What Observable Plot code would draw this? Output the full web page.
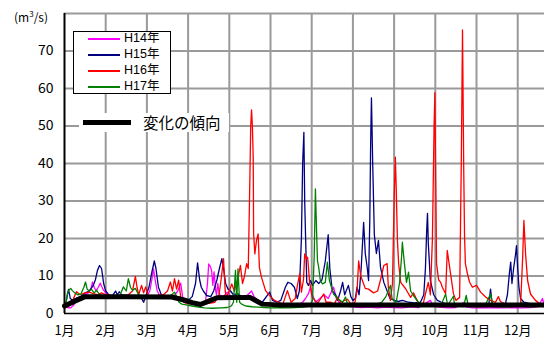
<!DOCTYPE html>
<html><head><meta charset="utf-8">
<script src="https://cdn.jsdelivr.net/npm/d3@7"></script>
<script src="https://cdn.jsdelivr.net/npm/@observablehq/plot@0.6"></script>
<style>
body{margin:0;background:#fff;font-family:'Noto Sans CJK JP',sans-serif;}
#wrap{position:relative;width:544px;height:338px;overflow:hidden;}
.abs{position:absolute;white-space:nowrap;line-height:1;}
.lt{font-family:'Liberation Sans','Noto Sans CJK JP',sans-serif;}
</style></head><body>
<div id="wrap"></div>
<script>
const monthLabels = ["1月","2月","3月","4月","5月","6月","7月","8月","9月","10月","11月","12月"];
const yTicks = [0,10,20,30,40,50,60,70];
const seriesNames = ["H14年","H15年","H16年","H17年"];
const seriesColors = ["#ff00ff","#000080","#ff0000","#008000"];
const trendName = "変化の傾向";

// [month position (0 = Jan 1), flow m3/s]
const h14 = [[0,1.8],[0.07,1.6],[0.15,1.5],[0.22,2.2],[0.29,3.5],[0.39,4.2],[0.5,5],[0.58,5.5],[0.64,6.5],[0.68,8.4],[0.72,7],[0.77,6],[0.82,7],[0.87,8.1],[0.93,6.5],[1.0,5.5],[1.07,5],[1.15,4.6],[1.3,4.4],[1.45,4.5],[1.6,4.6],[1.75,4.5],[1.9,4.4],[2.0,4.6],[2.07,6],[2.12,9],[2.16,11.9],[2.2,9],[2.25,6],[2.3,5],[2.4,4.6],[2.55,4.5],[2.68,5],[2.75,6],[2.82,8.1],[2.86,5],[2.89,3],[3.0,2.8],[3.15,2.6],[3.3,2.5],[3.42,3],[3.47,8],[3.5,13.2],[3.54,12.5],[3.57,11.5],[3.6,7.5],[3.63,11.1],[3.67,6],[3.69,5],[3.72,8],[3.76,5],[3.85,4.5],[3.95,5.7],[4.05,4.5],[4.2,4.2],[4.35,4.5],[4.45,5],[4.54,6],[4.6,4.5],[4.7,3.5],[4.88,2.7],[5.0,2.3],[5.2,2],[5.4,1.8],[5.6,2],[5.78,3],[5.85,4],[5.92,5.3],[5.97,7],[6.02,5],[6.09,3],[6.2,4],[6.3,5],[6.4,4],[6.53,7],[6.6,4],[6.7,2.5],[6.8,2],[7.0,1.8],[7.2,1.6],[7.4,1.7],[7.6,1.5],[7.8,1.7],[8.0,1.6],[8.2,1.5],[8.4,1.8],[8.6,1.6],[8.88,3.5],[8.95,2],[9.1,1.7],[9.3,1.5],[9.5,1.6],[9.7,3],[9.75,1.8],[9.9,1.5],[10.1,1.6],[10.3,1.5],[10.5,1.6],[10.7,1.5],[10.9,1.6],[11.1,1.5],[11.3,1.6],[11.5,1.8],[11.6,4],[11.65,2]];

const h15 = [[0,2.5],[0.04,3],[0.07,5],[0.1,6.4],[0.14,4],[0.2,3.5],[0.3,4.2],[0.4,4.6],[0.5,5.5],[0.6,6],[0.7,7.5],[0.75,9],[0.8,11.5],[0.85,12.8],[0.9,12],[0.95,8],[1.0,6],[1.07,5],[1.15,4.6],[1.24,6],[1.28,5],[1.33,5.8],[1.38,5],[1.48,4.8],[1.6,4.5],[1.75,4.2],[1.85,4.5],[1.92,3],[1.97,4.5],[2.05,7],[2.12,11],[2.18,14],[2.22,12],[2.28,7],[2.35,5],[2.45,4.6],[2.6,4.3],[2.75,4.5],[2.9,4],[3.0,3.5],[3.1,4.5],[3.18,8],[3.23,13.5],[3.28,9],[3.32,7],[3.37,6],[3.45,4.8],[3.55,4.5],[3.62,6],[3.7,9],[3.76,12],[3.82,14.6],[3.86,12],[3.91,8],[3.97,6.5],[4.03,6],[4.1,5],[4.2,5.3],[4.3,4.5],[4.42,4],[4.55,4.2],[4.65,3.5],[4.8,3],[4.98,5.7],[5.05,3.5],[5.15,3],[5.25,3.5],[5.36,7],[5.42,8.3],[5.5,8],[5.58,7],[5.65,4],[5.7,6],[5.75,20],[5.78,40],[5.81,48.3],[5.83,30],[5.85,21],[5.88,8.3],[5.92,7.5],[5.97,8.8],[6.02,7.5],[6.1,8.8],[6.17,8],[6.25,9],[6.33,14],[6.38,19],[6.40,21],[6.44,12],[6.5,6],[6.58,5],[6.63,3.5],[6.7,6],[6.75,8.3],[6.8,5],[6.89,7.5],[6.95,4.5],[7.0,3.5],[7.06,4],[7.1,7],[7.15,5],[7.2,12],[7.24,20],[7.26,24.3],[7.3,16],[7.35,12],[7.38,8.8],[7.41,25],[7.43,45],[7.45,57.5],[7.48,40],[7.52,21],[7.57,16],[7.62,19.5],[7.67,12.3],[7.75,8.3],[7.83,6],[7.9,4],[8.0,3.5],[8.1,3.2],[8.2,3.5],[8.35,3],[8.5,2.8],[8.64,3],[8.72,5],[8.76,12],[8.79,22],[8.81,26.7],[8.83,18.7],[8.88,8.8],[8.96,5],[9.05,3.5],[9.15,3],[9.3,2.5],[9.5,2.3],[9.7,2.5],[9.9,2.3],[10.1,2.2],[10.3,2.5],[10.34,6.5],[10.38,2.5],[10.55,2.2],[10.7,2.5],[10.75,5],[10.8,11],[10.83,13.7],[10.86,8],[10.9,12],[10.95,16],[10.97,18.1],[11.0,12],[11.03,7],[11.07,4],[11.15,3],[11.3,2.6],[11.45,2.4],[11.65,2.3]];

const h16 = [[0,1.5],[0.1,2],[0.2,3.5],[0.29,5.8],[0.38,5],[0.5,5.5],[0.6,5.7],[0.7,5.3],[0.8,5],[0.9,5.5],[1.0,5],[1.1,4.8],[1.25,4.5],[1.4,4.6],[1.55,5],[1.65,6],[1.72,9.9],[1.76,7],[1.8,5],[1.87,7.5],[1.92,5.5],[1.97,7.1],[2.02,5],[2.1,4.5],[2.25,4.8],[2.4,5],[2.5,6],[2.57,8.4],[2.62,6],[2.67,9.3],[2.72,6.5],[2.77,8.9],[2.82,4.5],[2.9,3],[3.05,2.6],[3.2,2.8],[3.35,2.5],[3.5,2.7],[3.65,3],[3.75,5],[3.8,9],[3.86,14.6],[3.9,6],[3.93,4.4],[4.0,6],[4.06,7.9],[4.12,6],[4.2,9],[4.27,12.8],[4.32,8],[4.37,10],[4.42,13.3],[4.46,12],[4.49,30],[4.52,50],[4.54,54.3],[4.56,50],[4.58,41.7],[4.59,21.3],[4.62,15.9],[4.66,19.5],[4.7,21.2],[4.73,12.3],[4.78,9.7],[4.88,6.1],[5.0,4.5],[5.1,3.5],[5.2,3],[5.3,2.5],[5.41,6.1],[5.5,3],[5.6,4],[5.66,7.9],[5.71,10.6],[5.75,5.7],[5.8,9],[5.83,15.9],[5.87,14.6],[5.9,15],[5.95,8.3],[6.01,4.4],[6.08,3.5],[6.15,2.8],[6.29,5.2],[6.35,3],[6.46,3],[6.55,2.5],[6.63,4.4],[6.7,3],[6.87,3.8],[6.95,2.5],[7.05,3],[7.1,6],[7.14,14],[7.19,10],[7.23,8.8],[7.3,6.7],[7.38,6.5],[7.5,5.5],[7.6,6],[7.67,9],[7.75,12.8],[7.83,13.3],[7.86,7],[7.91,3.5],[7.96,8],[8.0,30],[8.03,41.7],[8.05,34],[8.08,19.5],[8.11,13.3],[8.16,8.3],[8.28,6.6],[8.4,4.3],[8.47,5.5],[8.6,2.5],[8.7,2.3],[8.76,5.2],[8.83,8.3],[8.88,5],[8.93,20],[8.97,50],[8.99,58.9],[9.01,35],[9.03,13.3],[9.08,9],[9.13,8.3],[9.17,7],[9.25,5.3],[9.29,16.8],[9.37,10.6],[9.44,5.3],[9.5,3.5],[9.59,4.3],[9.63,40],[9.66,75.6],[9.69,38],[9.71,20.4],[9.73,13.3],[9.78,10.6],[9.83,8.4],[9.9,7],[10.0,7.5],[10.1,5.7],[10.22,4.4],[10.34,3.5],[10.46,3],[10.53,4.5],[10.58,3.2],[10.7,2.5],[10.83,2],[10.95,2.2],[11.07,2.5],[11.12,15],[11.15,24.8],[11.19,16],[11.24,8.8],[11.31,5.2],[11.43,3.5],[11.55,2.5],[11.65,2.5]];

const h17 = [[0,2],[0.04,3],[0.07,5.2],[0.1,6.2],[0.15,6.7],[0.19,6.1],[0.25,5.5],[0.32,5],[0.4,5.2],[0.47,7],[0.51,8.4],[0.55,6.5],[0.6,6],[0.65,6.5],[0.72,5.5],[0.78,6.2],[0.85,5],[0.95,4.7],[1.1,4.5],[1.25,4.6],[1.35,5],[1.43,7.1],[1.5,6],[1.55,9.3],[1.6,7],[1.65,6.2],[1.72,6.7],[1.8,5],[1.9,4.6],[2.05,4.5],[2.2,4.4],[2.35,4.5],[2.5,4.5],[2.6,5],[2.67,5.7],[2.72,4.5],[2.78,3],[2.85,2.5],[2.95,2.3],[3.1,2],[3.25,1.7],[3.4,1.5],[3.6,1.4],[3.8,1.5],[3.95,1.6],[4.05,2],[4.1,3],[4.15,11.5],[4.18,3],[4.21,11.9],[4.25,3],[4.3,2.5],[4.4,2],[4.55,1.8],[4.7,1.7],[4.85,1.6],[5.0,1.5],[5.2,1.6],[5.4,1.5],[5.6,1.6],[5.8,1.7],[5.95,2],[6.02,3.5],[6.06,15],[6.09,33.2],[6.12,21.2],[6.14,14],[6.17,12.3],[6.21,8.8],[6.26,7.9],[6.33,8.3],[6.38,13.7],[6.43,8.8],[6.53,5.2],[6.63,4],[6.75,3],[6.82,4.4],[6.87,2.5],[7.0,2],[7.1,2.2],[7.25,2],[7.4,2.2],[7.55,2.5],[7.7,3],[7.8,4.5],[7.91,7.5],[7.95,4],[8.05,3],[8.13,8],[8.18,15],[8.2,19],[8.25,13.3],[8.3,8.3],[8.35,11],[8.4,6],[8.47,4.8],[8.59,3],[8.7,2.5],[8.85,2],[9.0,2],[9.15,2.5],[9.25,5.2],[9.3,2.2],[9.44,4.6],[9.47,2],[9.6,2],[9.7,2.5],[9.75,4.8],[9.8,2],[10.0,1.8],[10.2,2],[10.34,5.2],[10.4,2],[10.6,1.8],[10.8,1.8],[11.0,2],[11.1,3],[11.15,2],[11.3,1.8],[11.5,2],[11.65,1.8]];

const trend = [[0,2.0],[0.25,3.3],[0.5,4.5],[1.5,4.5],[2.6,4.4],[2.9,3.6],[3.1,2.9],[3.3,2.4],[3.5,3.3],[3.7,4.2],[4.5,4.3],[4.65,3.4],[4.8,2.5],[5.2,2.3],[11.65,2.3]];

const series = [h14,h15,h16,h17];

const chart = Plot.plot({
  width: 544, height: 338,
  marginLeft: 64, marginRight: 0, marginTop: 13, marginBottom: 25,
  style: {fontFamily: "'Noto Sans CJK JP', sans-serif", fontSize: "13px", color: "#000", background: "#fff"},
  x: {domain: [0, 11.65], axis: null},
  y: {domain: [0, 80], axis: null},
  marks: [
    Plot.ruleX(d3.range(1, 12), {stroke: "#9a9a9a", strokeWidth: 2}),
    Plot.ruleY([10,20,30,40,50,60,70,80], {stroke: "#9a9a9a", strokeWidth: 2}),
    ...series.map((s, i) => Plot.line(s, {x: d => d[0], y: d => d[1], stroke: seriesColors[i], strokeWidth: 1.3})),
    Plot.line(trend, {x: d => d[0], y: d => d[1], stroke: "#000", strokeWidth: 5}),
    Plot.ruleX([0], {stroke: "#000", strokeWidth: 2}),
    Plot.ruleY([0], {stroke: "#000", strokeWidth: 1.5}),
    Plot.axisY(yTicks, {tickSize: 0, tickPadding: 11, fontSize: 14, label: null}),
    Plot.axisX(d3.range(12), {tickSize: 0, tickPadding: 12, fontSize: 13, tickFormat: i => monthLabels[i], label: null})
  ]
});
const wrap = document.getElementById("wrap");
wrap.appendChild(chart);

// unit label
const unit = document.createElement("div");
unit.className = "abs";
unit.style.cssText = "left:14px;top:10px;font-size:12px;";
unit.innerHTML = "(m<sup style='font-size:8px;vertical-align:5px'>3</sup>/s)";
wrap.appendChild(unit);

// legend box
const leg = document.createElement("div");
leg.className = "abs";
leg.style.cssText = "left:73px;top:31px;width:96px;height:61px;border:1.5px solid #000;background:#fff;";
wrap.appendChild(leg);
seriesNames.forEach((n, i) => {
  const y = 6 + i * 16.1;
  const sw = document.createElement("div");
  sw.className = "abs";
  sw.style.cssText = `left:14px;top:${y}px;width:32px;height:1.6px;background:${seriesColors[i]};`;
  leg.appendChild(sw);
  const t = document.createElement("div");
  t.className = "abs lt";
  t.style.cssText = `left:50px;top:${y - 6}px;font-size:12.5px;`;
  t.textContent = n;
  leg.appendChild(t);
});

// trend label
const tl = document.createElement("div");
tl.className = "abs";
tl.style.cssText = "left:79px;top:113px;width:150px;height:19px;background:#fff;";
wrap.appendChild(tl);
const tb = document.createElement("div");
tb.className = "abs";
tb.style.cssText = "left:4px;top:7px;width:48px;height:5px;background:#000;";
tl.appendChild(tb);
const tt = document.createElement("div");
tt.className = "abs";
tt.style.cssText = "left:64px;top:2px;font-size:15.5px;";
tt.textContent = trendName;
tl.appendChild(tt);
</script>
</body></html>
